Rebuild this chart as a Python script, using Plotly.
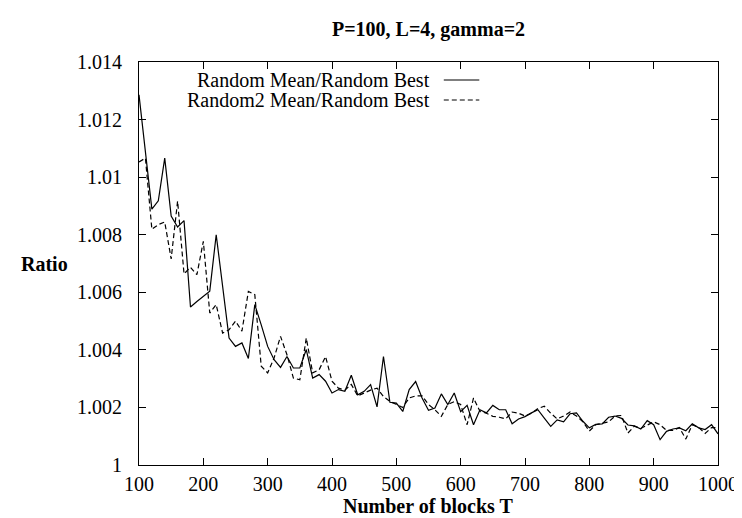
import plotly.graph_objects as go

# ---------------- data ----------------
T = list(range(100, 1001, 10))

random_mean = [
    1.01286, 1.0109, 1.00889, 1.00918, 1.01066, 1.00865, 1.00827, 1.00849, 1.00549, 1.00568,
    1.00586, 1.00604, 1.0080, 1.0062, 1.00441, 1.00412, 1.00424, 1.0037, 1.00557, 1.00487,
    1.00412, 1.00366, 1.00339, 1.00377, 1.00337, 1.00337, 1.00401, 1.00302, 1.00314, 1.00291,
    1.0025, 1.00262, 1.00256, 1.00312, 1.00244, 1.00256, 1.00279, 1.00202, 1.00377, 1.00218,
    1.00215, 1.00186, 1.00262, 1.0029, 1.00233, 1.0019, 1.00198, 1.00247, 1.0021, 1.0025,
    1.00185, 1.00207, 1.0014, 1.00192, 1.00181, 1.00207, 1.00192, 1.00192, 1.00143, 1.0016,
    1.00168, 1.00181, 1.00192, 1.00163, 1.00134, 1.00157, 1.0015, 1.00178, 1.00181, 1.00152,
    1.00129, 1.00141, 1.00143, 1.00166, 1.0017, 1.00162, 1.00139, 1.00136, 1.00125, 1.00154,
    1.0014, 1.00088, 1.00117, 1.00125, 1.00129, 1.00119, 1.00143, 1.00129, 1.00123, 1.0014,
    1.00108,
]

random2_mean = [
    1.01053, 1.01066, 1.00819, 1.00835, 1.00844, 1.00716, 1.00917, 1.00664, 1.00687, 1.00661,
    1.00777, 1.00528, 1.00557, 1.00458, 1.0047, 1.0050, 1.00465, 1.00603, 1.00592, 1.00343,
    1.0032, 1.00372, 1.00447, 1.00383, 1.00302, 1.00296, 1.00441, 1.0032, 1.00331, 1.00377,
    1.00291, 1.00267, 1.0026, 1.0028, 1.0024, 1.0025, 1.0026, 1.00267, 1.00238, 1.00221,
    1.0021, 1.002, 1.00233, 1.0024, 1.0024, 1.0021, 1.00192, 1.00169, 1.0021, 1.0022,
    1.0021, 1.0014, 1.00233, 1.00186, 1.0018, 1.00169, 1.00166, 1.0016, 1.00184, 1.0018,
    1.0017, 1.0018, 1.00196, 1.00204, 1.0018, 1.0016, 1.0017, 1.00184, 1.0017, 1.0015,
    1.00118, 1.0014, 1.00145, 1.0015, 1.0017, 1.00172, 1.00111, 1.00135, 1.00127, 1.0014,
    1.0015, 1.0014, 1.0012, 1.0012, 1.0013, 1.0009, 1.0014, 1.0013, 1.0011, 1.0013,
    1.0013,
]

series_names = ["Random Mean/Random Best", "Random2 Mean/Random Best"]
x_tick_vals = list(range(100, 1001, 100))
y_tick_vals = [1.000, 1.002, 1.004, 1.006, 1.008, 1.010, 1.012, 1.014]
y_tick_text = ["1", "1.002", "1.004", "1.006", "1.008", "1.01", "1.012", "1.014"]

# ---------------- layout geometry (pixels) ----------------
W, H = 742, 518
L, R, TOP, B = 131, 718, 54, 457
FONT = "Liberation Serif"


def px(xp):
    return (xp - L) / (R - L)


def py(yp):
    return (B - yp) / (B - TOP)


fig = go.Figure()
fig.add_trace(go.Scatter(x=T, y=random_mean, mode="lines", name=series_names[0],
                         line=dict(color="black", width=1.2), showlegend=False))
fig.add_trace(go.Scatter(x=T, y=random2_mean, mode="lines", name=series_names[1],
                         line=dict(color="black", width=1.2, dash="5px,3px"), showlegend=False))

axis_common = dict(showline=True, linecolor="black", linewidth=1, mirror="allticks",
                   ticks="inside", ticklen=7, tickcolor="black", tickwidth=1,
                   showgrid=False, zeroline=False,
                   tickfont=dict(family=FONT, size=20, color="black"))

fig.update_layout(
    width=W, height=H,
    margin=dict(l=L, r=W - R, t=TOP, b=H - B, pad=0),
    paper_bgcolor="white", plot_bgcolor="white",
    showlegend=False,
    xaxis=dict(range=[100, 1000], tickvals=x_tick_vals, ticklabelstandoff=1, **axis_common),
    yaxis=dict(range=[1.0, 1.014], tickvals=y_tick_vals, ticktext=y_tick_text,
               ticklabelstandoff=12, **axis_common),
)

annotations = [
    dict(text="<b>P=100, L=4, gamma=2</b>", x=px(424), y=py(21), xref="paper", yref="paper",
         showarrow=False, font=dict(family=FONT, size=20, color="black"),
         xanchor="center", yanchor="middle"),
    dict(text="<b>Number of blocks T</b>", x=px(424), y=py(498), xref="paper", yref="paper",
         showarrow=False, font=dict(family=FONT, size=20, color="black"),
         xanchor="center", yanchor="middle"),
    dict(text="<b>Ratio</b>", x=px(35), y=py(256), xref="paper", yref="paper",
         showarrow=False, font=dict(family=FONT, size=20, color="black"),
         xanchor="center", yanchor="middle"),
]
legend_rows = [72, 92]
for name, yy in zip(series_names, legend_rows):
    annotations.append(dict(text=name, x=px(428), y=py(yy), xref="paper", yref="paper",
                            showarrow=False, font=dict(family=FONT, size=20, color="black"),
                            xanchor="right", yanchor="middle"))
fig.update_layout(annotations=annotations)

fig.add_shape(type="line", xref="paper", yref="paper", x0=px(440), x1=px(476),
              y0=py(legend_rows[0]), y1=py(legend_rows[0]), line=dict(color="black", width=1.2))
fig.add_shape(type="line", xref="paper", yref="paper", x0=px(440), x1=px(476),
              y0=py(legend_rows[1]), y1=py(legend_rows[1]),
              line=dict(color="black", width=1.2, dash="5px,3px"))

fig.write_html("out.html")
